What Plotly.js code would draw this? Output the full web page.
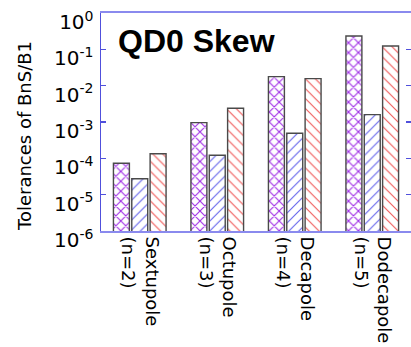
<!DOCTYPE html>
<html>
<head>
<meta charset="utf-8">
<script src="https://cdn.plot.ly/plotly-3.0.1.min.js"></script>
<style>html,body{margin:0;padding:0;background:#fff;}#chart{width:411px;height:347px;}</style>
</head>
<body>
<div id="chart"></div>
<script>
const categories = ["Sextupole<br>(n=2)", "Octupole<br>(n=3)", "Decapole<br>(n=4)", "Dodecapole<br>(n=5)"];
const seriesA = [7.3e-5, 9.6e-4, 1.77e-2, 2.33e-1];
const seriesB = [2.75e-5, 1.21e-4, 4.9e-4, 1.6e-3];
const seriesC = [1.34e-4, 2.4e-3, 1.56e-2, 1.24e-1];
const yTickVals = [1e-6, 1e-5, 1e-4, 1e-3, 1e-2, 1e-1, 1];
const yTickText = ["10<sup>-6</sup>", "10<sup>-5</sup>", "10<sup>-4</sup>", "10<sup>-3</sup>", "10<sup>-2</sup>", "10<sup>-1</sup>", "10<sup>0</sup>"];
const titleText = "<b>QD0 Skew</b>";
const yTitle = "Tolerances of BnS/B1";

const outline = {color: "#4a4a4a", width: 1.4};
function bar(vals, fg, shape, sol) {
  return {
    type: "bar", x: categories, y: vals, showlegend: false,
    marker: {color: "#ffffff", line: outline,
      pattern: {shape: shape, fgcolor: fg, bgcolor: "#ffffff", size: 7, solidity: sol}}
  };
}
const data = [
  bar(seriesA, "#a030e6", "x", 0.3),
  bar(seriesB, "#6464ec", "/", 0.16),
  bar(seriesC, "#f05858", "\\", 0.16)
];
const axisColor = "#5050dc";
const layout = {
  width: 411, height: 347,
  margin: {l: 101, r: 0, t: 13, b: 116},
  paper_bgcolor: "#ffffff", plot_bgcolor: "#ffffff",
  barmode: "group", bargap: 0.29, bargroupgap: 0.13,
  font: {family: "DejaVu Sans", color: "#000"},
  title: {text: titleText, x: 118/411, xanchor: "left", xref: "container",
          y: 1 - 41/347, yanchor: "middle", yref: "container",
          font: {family: "Liberation Sans", size: 32, color: "#000"}},
  xaxis: {type: "category", range: [-0.5, 3.5], tickangle: 90,
          showline: true, linecolor: "#8a8aee", linewidth: 2, mirror: true,
          ticks: "", showgrid: false, zeroline: false,
          tickfont: {family: "DejaVu Sans", size: 18, color: "#000"}},
  yaxis: {type: "log", range: [-6.0001, 0.0001], tickvals: yTickVals, ticktext: yTickText,
          showline: true, linecolor: axisColor, linewidth: 1.5, mirror: "allticks",
          ticks: "inside", ticklen: 5, tickcolor: axisColor, tickwidth: 1.2,
          showgrid: false, zeroline: false, ticklabelshift: 9, ticklabelstandoff: 2,
          tickfont: {family: "DejaVu Sans", size: 20, color: "#000"}},
  annotations: [{text: yTitle, xref: "paper", yref: "paper", x: -0.245, y: 0.436,
                 xanchor: "center", yanchor: "middle", textangle: -90, showarrow: false,
                 font: {family: "DejaVu Sans", size: 18, color: "#000"}}]
};
Plotly.newPlot("chart", data, layout, {displayModeBar: false, staticPlot: true});
</script>
</body>
</html>
